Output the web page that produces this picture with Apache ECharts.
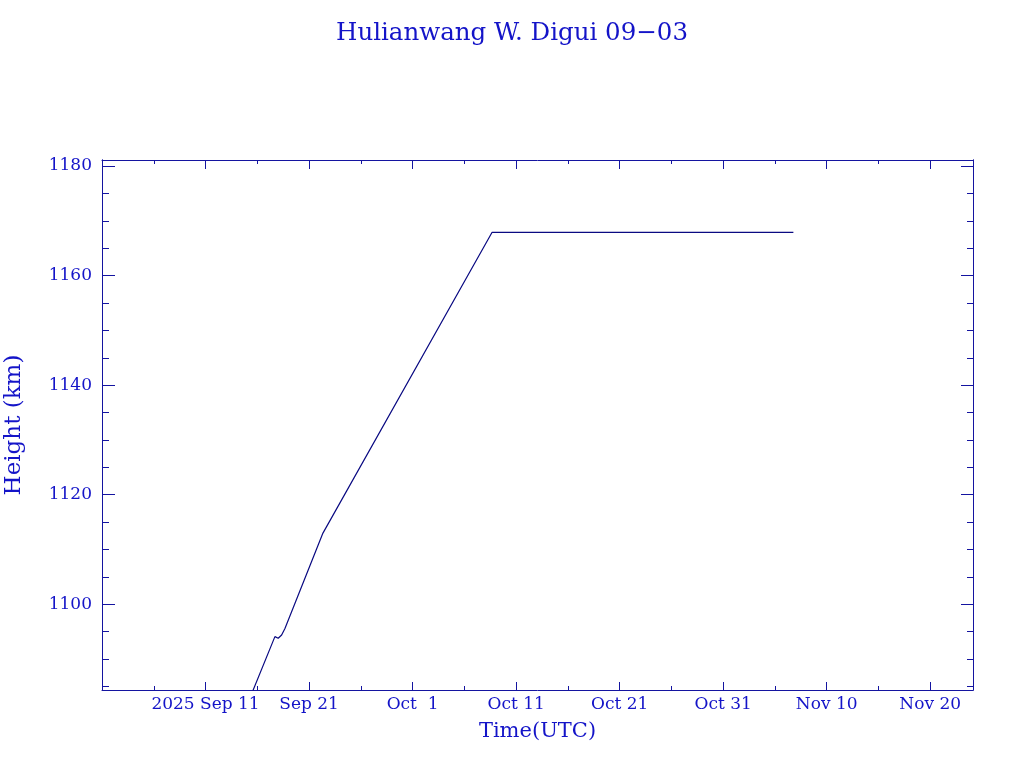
<!DOCTYPE html>
<html>
<head>
<meta charset="utf-8">
<script src="https://cdn.jsdelivr.net/npm/echarts@6/dist/echarts.min.js"></script>
<style>html,body{margin:0;padding:0;background:#fff}#c{width:1024px;height:768px}</style>
</head>
<body>
<div id="c"></div>
<script>
// Data (UTC times and heights in km)
const times = [
  '2025-09-14T19:00:00Z',
  '2025-09-17T16:50:00Z',
  '2025-09-18T00:30:00Z',
  '2025-09-18T08:25:00Z',
  '2025-09-18T16:05:00Z',
  '2025-09-22T08:10:00Z',
  '2025-10-08T16:20:00Z',
  '2025-11-06T18:45:00Z'
];
const heights = [1080.6, 1094.1, 1093.8, 1094.4, 1095.6, 1113.0, 1167.9, 1167.9];
const xTickLabels = ['', '2025 Sep 11', 'Sep 21', 'Oct  1', 'Oct 11', 'Oct 21', 'Oct 31', 'Nov 10', 'Nov 20'];
const yTickValues = [1100, 1120, 1140, 1160, 1180];
const yMinorValues = [1085, 1090, 1095, 1105, 1110, 1115, 1125, 1130, 1135, 1145, 1150, 1155, 1165, 1170, 1175];

const ORIGIN = Date.UTC(2025, 8, 1);
const DAY = 86400000;
const seriesData = times.map((t, i) => [(Date.parse(t) - ORIGIN) / DAY, heights[i]]);

const TXT = '#1414c8';
const AX = '#1414a0';
const LINE = '#0a0a82';
const FONT = 'DejaVu Serif';

const xMin = 0, xMax = 84.13;
const yMin = 1084.36, yMax = 1181.1;

function xLabel(v) {
  const r = Math.round(v);
  if (Math.abs(v - r) > 1e-6 || r % 10 !== 0) return '';
  return xTickLabels[r / 10] || '';
}

function yAxisDef(pos, ticks, len, withLabels) {
  const a = {
    type: 'value', position: pos, min: yMin, max: yMax,
    axisLine: {show: true, onZero: false, lineStyle: {color: AX, width: 1}},
    axisTick: {show: true, inside: true, length: len, customValues: ticks, lineStyle: {color: AX}},
    axisLabel: {show: false},
    splitLine: {show: false}
  };
  if (withLabels) {
    a.name = 'Height (km)';
    a.nameLocation = 'middle';
    a.nameGap = 76;
    a.nameRotate = 90;
    a.nameTextStyle = {color: TXT, fontFamily: FONT, fontSize: 23};
    a.axisLabel = {show: true, color: TXT, fontFamily: FONT, fontSize: 17, margin: 10,
      customValues: ticks, formatter: v => String(Math.round(v))};
  }
  return a;
}

const chart = echarts.init(document.getElementById('c'), null, {renderer: 'canvas'});
chart.setOption({
  animation: false,
  backgroundColor: '#fff',
  title: {
    text: 'Hulianwang W. Digui 09\u221203',
    left: 'center', top: 16,
    textStyle: {color: TXT, fontFamily: FONT, fontSize: 24.5, fontWeight: 'normal'}
  },
  grid: {left: 102, right: 51, top: 160, bottom: 78, containLabel: false, outerBoundsMode: 'none'},
  xAxis: [
    {
      type: 'value', position: 'bottom', min: xMin, max: xMax, interval: 10,
      name: 'Time(UTC)', nameLocation: 'middle', nameGap: 31,
      nameTextStyle: {color: TXT, fontFamily: FONT, fontSize: 21},
      axisLine: {show: true, onZero: false, lineStyle: {color: AX, width: 1}},
      axisTick: {show: true, inside: true, length: 8, lineStyle: {color: AX}},
      minorTick: {show: true, splitNumber: 2, length: 4, lineStyle: {color: AX}},
      axisLabel: {color: TXT, fontFamily: FONT, fontSize: 17, margin: 6, formatter: xLabel, showMinLabel: false, showMaxLabel: false},
      splitLine: {show: false}
    },
    {
      type: 'value', position: 'top', min: xMin, max: xMax, interval: 10,
      axisLine: {show: true, onZero: false, lineStyle: {color: AX, width: 1}},
      axisTick: {show: true, inside: true, length: 9, lineStyle: {color: AX}},
      minorTick: {show: true, splitNumber: 2, length: 4, lineStyle: {color: AX}},
      axisLabel: {show: false},
      splitLine: {show: false}
    }
  ],
  yAxis: [
    yAxisDef('left', yTickValues, 13, true),
    yAxisDef('right', yTickValues, 12, false),
    yAxisDef('left', yMinorValues, 7, false),
    yAxisDef('right', yMinorValues, 6, false)
  ],
  series: [{
    type: 'line', xAxisIndex: 0, yAxisIndex: 0,
    data: seriesData, showSymbol: false, symbol: 'none',
    lineStyle: {color: LINE, width: 1.2}, clip: true
  }]
});
</script>
</body>
</html>
